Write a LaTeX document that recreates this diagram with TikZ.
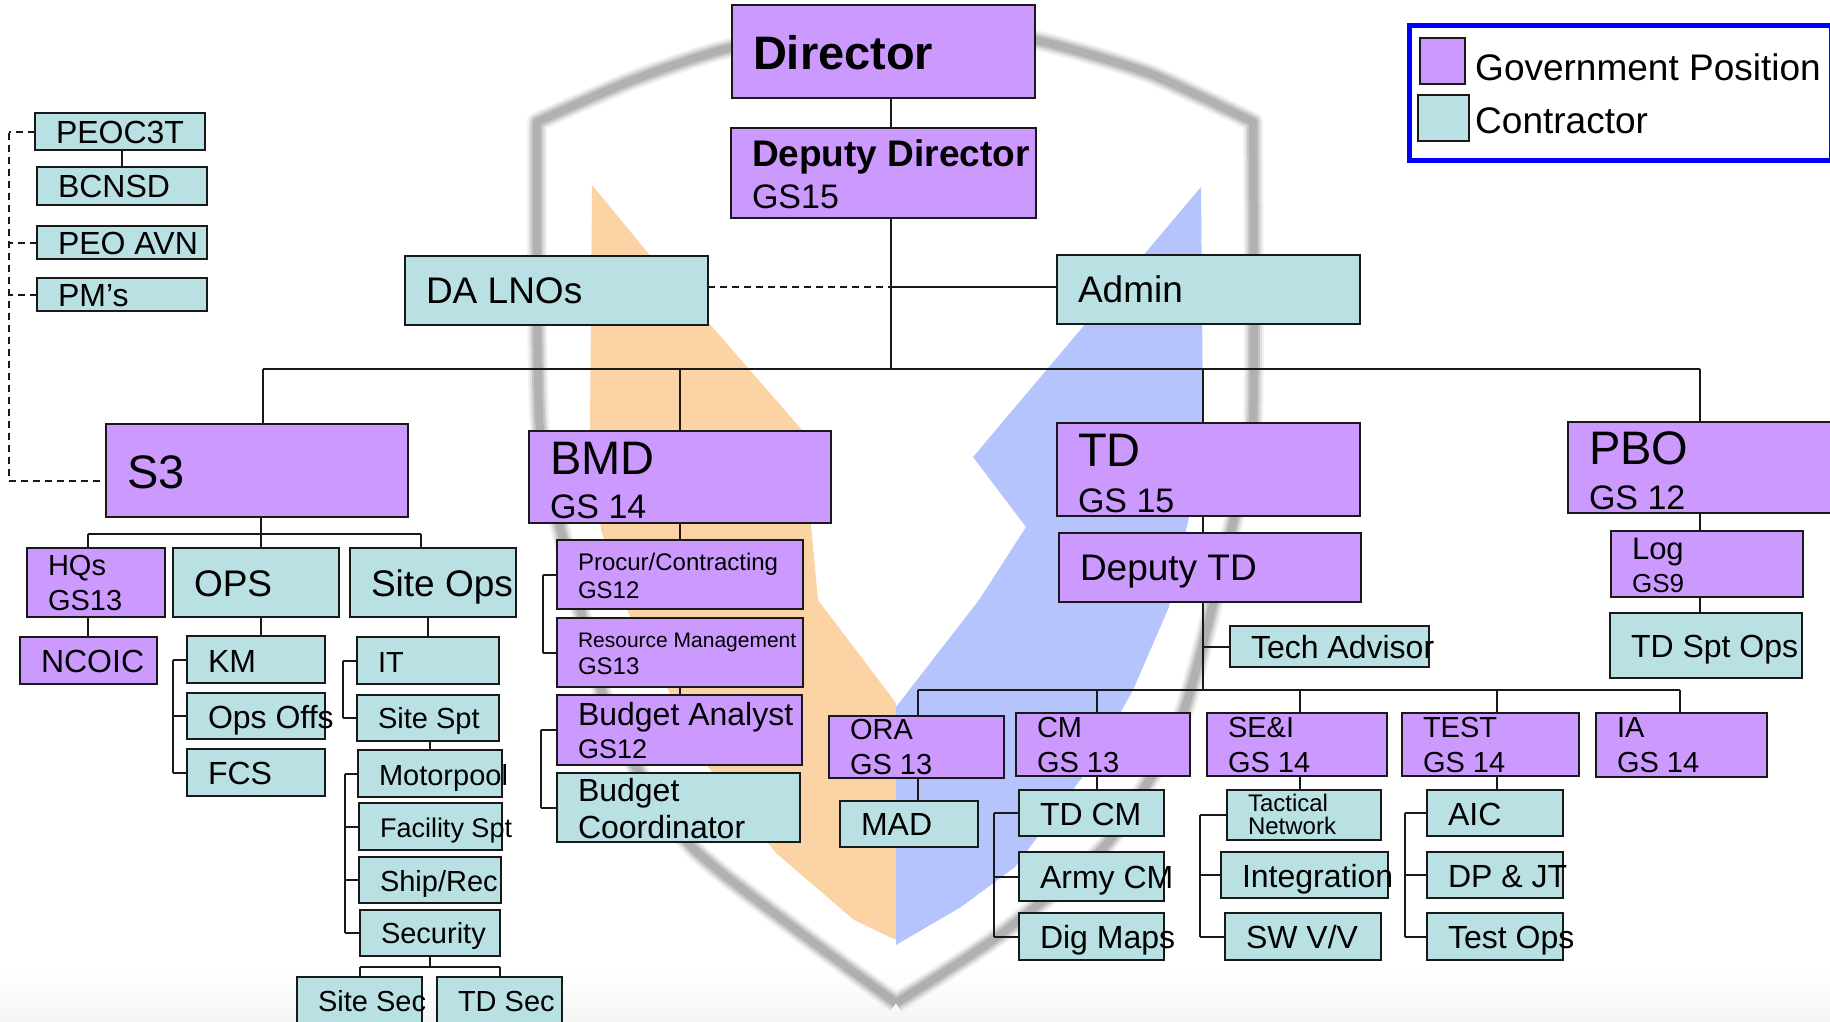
\documentclass[tikz,border=0pt]{standalone}
\usepackage{fontspec}
\setmainfont{Liberation Sans}
\hyphenpenalty=10000
\newcommand{\fsz}[2]{\fontsize{#1}{#2}\selectfont}
\newcommand{\gap}{\nobreak\hskip.278em\relax}
\definecolor{govpurple}{HTML}{CC99FF}
\definecolor{conteal}{HTML}{B9E0E3}
\definecolor{shieldorange}{HTML}{FCD3A4}
\definecolor{shieldblue}{HTML}{B6C4FD}
\definecolor{shieldgray}{HTML}{909090}

\begin{document}
\begin{tikzpicture}[x=1pt,y=-1pt,
        box node/.style={draw=black!90,line width=2pt,anchor=north west,outer sep=0pt,inner xsep=21pt,inner ysep=0pt,align=left},
        gov node/.style={box node,fill=govpurple},
        con node/.style={box node,fill=conteal},
        box size/.style n args={3}{text width=(#1-42)*1pt,text height=#3*1pt,text depth=(#2-#3)*1pt},
        huge text/.style={font=\fsz{47}{47}},
        large text/.style={font=\fsz{37}{40}},
        mid text/.style={font=\fsz{32}{37}},
        small text/.style={font=\fsz{29}{35}},
        link/.style={draw=black!90,line width=2pt},
        dash link/.style={link,dashed,dash pattern=on 7pt off 5pt}]

    \path[use as bounding box,clip] (0,0) rectangle (1830,1021);

    % shield behind the chart
    \shade[top color=white,bottom color=black!4] (0,970) rectangle (1830,1021);
    \fill[shieldorange] (592,185) -- (648,253) -- (802,430) -- (818,600) -- (896,703) -- (896,940)
        -- (854,920) -- (776,853) -- (708,767) -- (627,610) -- (601,530) -- (590,430) -- cycle;
    \fill[shieldblue] (1201,187) -- (1203,423) -- (1189,517) -- (1169,607) -- (1133,690) -- (1090,767)
        -- (1015,867) -- (961,907) -- (896,945) -- (896,707) -- (979,600) -- (1026,527) -- (973,457) -- cycle;
    \foreach \w/\o in {20/.12,16/.2,12/.3,8/.4} {
        \draw[shieldgray,line width=\w pt,opacity=\o,line join=round]
            plot[smooth,tension=.4] coordinates {(896,1003) (790,925) (690,845) (620,740) (595,667) (556,510) (540,430) (537,300) (537,122)}
            -- plot[smooth,tension=.4] coordinates {(537,122) (633,80) (730,48) (896,18) (1035,40) (1148,73) (1253,122)}
            -- plot[smooth,tension=.4] coordinates {(1253,122) (1253,423) (1236,510) (1197,667) (1172,740) (1104,847) (997,937) (896,1003)};
    }

    % top of the chart
    \node[gov node,box size={303}{93}{64},font=\fsz{47}{47}\bfseries] (director) at (732,5) {Director};
    \node[gov node,box size={305}{90}{38},font=\fsz{34}{42}] (deputy) at (731,128) {{\fsz{37}{37}\bfseries Deputy\gap Director}\\GS15};
    \node[con node,box size={303}{69}{47},large text] (dalnos) at (405,256) {DA\gap LNOs};
    \node[con node,box size={303}{69}{47},large text] (admin) at (1057,255) {Admin};

    % liaison boxes
    \node[con node,box size={170}{37}{30},mid text] (peoc3t) at (35,113) {PEOC3T};
    \node[con node,box size={170}{38}{30},mid text] (bcnsd) at (37,167) {BCNSD};
    \node[con node,box size={170}{33}{28},mid text] (peoavn) at (37,226) {PEO\gap AVN};
    \node[con node,box size={170}{33}{28},mid text] (pms) at (37,278) {PM’s};

    % legend
    \node[draw=blue,line width=5pt,anchor=north west,outer sep=0pt,minimum width=422pt,minimum height=135pt,inner sep=0pt] (legend) at (1409,25) {};
    \node[gov node,inner xsep=0pt,minimum width=45pt,minimum height=46pt] (govkey) at (1420,38) {};
    \node[con node,inner xsep=0pt,minimum width=51pt,minimum height=46pt] (conkey) at (1418,95) {};
    \node[anchor=base west,inner sep=0pt,font=\fsz{37}{40}] (govtext) at (1475,80) {Government\gap Position};
    \node[anchor=base west,inner sep=0pt,font=\fsz{37}{40}] (context) at (1475,133) {Contractor};

    % four branches
    \node[gov node,box size={302}{93}{64},huge text] (s3) at (106,424) {S3};
    \node[gov node,box size={302}{92}{43},font=\fsz{34}{44}] (bmd) at (529,431) {{\fsz{47}{47}BMD}\\GS\gap 14};
    \node[gov node,box size={303}{93}{43},font=\fsz{34}{46}] (td) at (1057,423) {{\fsz{47}{47}TD}\\GS\gap 15};
    \node[gov node,box size={275}{91}{42},font=\fsz{34}{45}] (pbo) at (1568,422) {{\fsz{47}{47}PBO}\\GS\gap 12};

    % S3
    \node[gov node,box size={138}{69}{27},small text] (hqs) at (27,548) {HQs\\GS13};
    \node[con node,box size={166}{69}{48},large text] (ops) at (173,548) {OPS};
    \node[con node,box size={166}{69}{48},large text] (siteops) at (350,548) {Site\gap Ops};
    \node[gov node,box size={137}{47}{35},mid text] (ncoic) at (20,637) {NCOIC};
    \node[con node,box size={138}{47}{36},mid text] (km) at (187,636) {KM};
    \node[con node,box size={138}{46}{35},mid text] (opsoffs) at (187,693) {Ops\gap Offs};
    \node[con node,box size={138}{47}{35},mid text] (fcs) at (187,749) {FCS};
    \node[con node,box size={142}{47}{35},small text] (it) at (357,637) {IT};
    \node[con node,box size={142}{46}{33},small text] (sitespt) at (357,695) {Site\gap Spt};
    \node[con node,box size={144}{47}{35},small text] (motorpool) at (358,750) {Motorpool};
    \node[con node,box size={143}{47}{34},font=\fsz{27}{30}] (facility) at (359,803) {Facility\gap Spt};
    \node[con node,box size={142}{46}{34},small text] (shiprec) at (359,857) {Ship/Rec};
    \node[con node,box size={140}{46}{33},small text] (security) at (360,910) {Security};
    \node[con node,box size={125}{60}{34},small text] (sitesec) at (297,977) {Site\gap Sec};
    \node[con node,box size={125}{60}{34},small text] (tdsec) at (437,977) {TD\gap Sec};

    % BMD
    \node[gov node,box size={246}{69}{30},font=\fsz{24}{28}] (procur) at (557,540) {Procur/Contracting\\GS12};
    \node[gov node,box size={246}{69}{29},font=\fsz{24}{27}] (resource) at (557,618) {{\fsz{21}{24}Resource\gap Management}\\GS13};
    \node[gov node,box size={245}{70}{30},font=\fsz{27}{33}] (analyst) at (557,695) {{\fsz{32}{32}Budget\gap Analyst}\\GS12};
    \node[con node,box size={243}{69}{28},mid text] (coord) at (557,773) {Budget\\Coordinator};

    % TD
    \node[gov node,box size={302}{69}{47},large text] (deputytd) at (1059,533) {Deputy\gap TD};
    \node[con node,box size={199}{41}{32},mid text] (tech) at (1230,626) {Tech\gap Advisor};
    \node[gov node,box size={175}{62}{23},small text] (ora) at (829,716) {ORA\\GS\gap 13};
    \node[con node,box size={138}{46}{34},mid text] (mad) at (840,801) {MAD};
    \node[gov node,box size={174}{63}{24},small text] (cm) at (1016,713) {CM\\GS\gap 13};
    \node[con node,box size={145}{46}{35},mid text] (tdcm) at (1019,790) {TD\gap CM};
    \node[con node,box size={145}{49}{36},mid text] (armycm) at (1019,852) {Army\gap CM};
    \node[con node,box size={145}{47}{35},mid text] (digmaps) at (1019,913) {Dig\gap Maps};
    \node[gov node,box size={180}{63}{24},small text] (sei) at (1207,713) {SE\&I\\GS\gap 14};
    \node[con node,box size={154}{50}{21},font=\fsz{24}{23}] (tactical) at (1227,790) {Tactical\\Network};
    \node[con node,box size={167}{46}{35},mid text] (integration) at (1221,852) {Integration};
    \node[con node,box size={156}{47}{35},mid text] (swvv) at (1225,913) {SW\gap V/V};
    \node[gov node,box size={177}{63}{24},small text] (test) at (1402,713) {TEST\\GS\gap 14};
    \node[con node,box size={136}{46}{35},mid text] (aic) at (1427,790) {AIC};
    \node[con node,box size={136}{46}{35},mid text] (dpjt) at (1427,852) {DP\gap \&\gap JT};
    \node[con node,box size={136}{47}{35},mid text] (testops) at (1427,913) {Test\gap Ops};
    \node[gov node,box size={171}{64}{24},small text] (ia) at (1596,713) {IA\\GS\gap 14};

    % PBO
    \node[gov node,box size={192}{66}{28},font=\fsz{26}{33}] (log) at (1611,531) {{\fsz{31}{31}Log}\\GS9};
    \node[con node,box size={192}{65}{44},mid text] (tdsptops) at (1610,613) {TD\gap Spt\gap Ops};

    % where the lines meet
    \coordinate (main) at (891,369);
    \coordinate (mainl) at (263,369);
    \coordinate (tdtap) at (1203,369);
    \coordinate (mainr) at (1700,369);
    \coordinate (staff) at (891,287);
    \coordinate (dashtop) at (9,133);
    \coordinate (dashend) at (9,481);
    \coordinate (s3bus) at (261,534);
    \coordinate (hqstap) at (88,534);
    \coordinate (sitetap) at (421,534);
    \coordinate (secbus) at (430,967);
    \coordinate (opsrail) at (173,700);
    \coordinate (siterail) at (343,700);
    \coordinate (motorrail) at (345,800);
    \coordinate (bmdrail) at (543,600);
    \coordinate (budgetrail) at (541,760);
    \coordinate (orabus) at (918,690);
    \coordinate (cmtap) at (1097,690);
    \coordinate (tdbus) at (1203,690);
    \coordinate (setap) at (1300,690);
    \coordinate (testtap) at (1497,690);
    \coordinate (iabus) at (1680,690);
    \coordinate (cmrail) at (994,880);
    \coordinate (serail) at (1200,880);
    \coordinate (testrail) at (1405,880);

    \path[every edge/.style={link}]
        (director.south -| main) edge (deputy.north -| main)
        (deputy.south -| main) edge (main)
        (staff) edge (admin.west |- staff)
        (mainl) edge (mainr)
        (mainl) edge (s3.north -| mainl)
        (main -| bmd.north) edge (bmd.north)
        (tdtap) edge (td.north -| tdtap)
        (mainr) edge (pbo.north -| mainr)
        (peoc3t.south -| bcnsd.north) edge (bcnsd.north)
        % S3
        (s3.south -| s3bus) edge (ops.north -| s3bus)
        (hqstap) edge (sitetap)
        (hqstap) edge (hqs.north -| hqstap)
        (sitetap) edge (siteops.north -| sitetap)
        (hqs.south -| hqstap) edge (ncoic.north -| hqstap)
        (ops.south -| s3bus) edge (km.north -| s3bus)
        (siteops.south -| it.north) edge (it.north)
        (sitespt.south -| motorpool.north) edge (motorpool.north)
        (km.west -| opsrail) edge (fcs.west -| opsrail)
        (km.west) edge (km.west -| opsrail)
        (opsoffs.west) edge (opsoffs.west -| opsrail)
        (fcs.west) edge (fcs.west -| opsrail)
        (it.west -| siterail) edge (sitespt.west -| siterail)
        (it.west) edge (it.west -| siterail)
        (sitespt.west) edge (sitespt.west -| siterail)
        (motorpool.west -| motorrail) edge (security.west -| motorrail)
        (motorpool.west) edge (motorpool.west -| motorrail)
        (facility.west) edge (facility.west -| motorrail)
        (shiprec.west) edge (shiprec.west -| motorrail)
        (security.west) edge (security.west -| motorrail)
        (security.south) edge (secbus)
        (secbus -| sitesec.north) edge (secbus -| tdsec.north)
        (secbus -| sitesec.north) edge (sitesec.north)
        (secbus -| tdsec.north) edge (tdsec.north)
        % BMD
        (bmd.south -| procur.north) edge (procur.north)
        (resource.south -| analyst.north) edge (analyst.north)
        (procur.west -| bmdrail) edge (resource.west -| bmdrail)
        (procur.west) edge (procur.west -| bmdrail)
        (resource.west) edge (resource.west -| bmdrail)
        (analyst.west -| budgetrail) edge (coord.west -| budgetrail)
        (analyst.west) edge (analyst.west -| budgetrail)
        (coord.west) edge (coord.west -| budgetrail)
        % TD
        (td.south -| tdtap) edge (deputytd.north -| tdtap)
        (deputytd.south -| tdtap) edge (tdbus)
        (tech.west) edge (tech.west -| tdtap)
        (orabus) edge (iabus)
        (orabus) edge (ora.north -| orabus)
        (ora.south -| orabus) edge (mad.north -| orabus)
        (cmtap) edge (cm.north -| cmtap)
        (cm.south -| cmtap) edge (tdcm.north -| cmtap)
        (setap) edge (sei.north -| setap)
        (sei.south -| setap) edge (tactical.north -| setap)
        (testtap) edge (test.north -| testtap)
        (test.south -| testtap) edge (aic.north -| testtap)
        (iabus) edge (ia.north -| iabus)
        (tdcm.west -| cmrail) edge (digmaps.west -| cmrail)
        (tdcm.west) edge (tdcm.west -| cmrail)
        (armycm.west) edge (armycm.west -| cmrail)
        (digmaps.west) edge (digmaps.west -| cmrail)
        (tactical.west -| serail) edge (swvv.west -| serail)
        (tactical.west) edge (tactical.west -| serail)
        (integration.west) edge (integration.west -| serail)
        (swvv.west) edge (swvv.west -| serail)
        (aic.west -| testrail) edge (testops.west -| testrail)
        (aic.west) edge (aic.west -| testrail)
        (dpjt.west) edge (dpjt.west -| testrail)
        (testops.west) edge (testops.west -| testrail)
        % PBO
        (pbo.south -| mainr) edge (log.north -| mainr)
        (log.south -| mainr) edge (tdsptops.north -| mainr);

    \path[every edge/.style={dash link}]
        (dalnos.east |- staff) edge (staff)
        (dashtop) edge (dashend)
        (dashend) edge (s3.west |- dashend)
        (peoc3t.west) edge (peoc3t.west -| dashtop)
        (peoavn.west) edge (peoavn.west -| dashtop)
        (pms.west) edge (pms.west -| dashtop);
\end{tikzpicture}
\end{document}
